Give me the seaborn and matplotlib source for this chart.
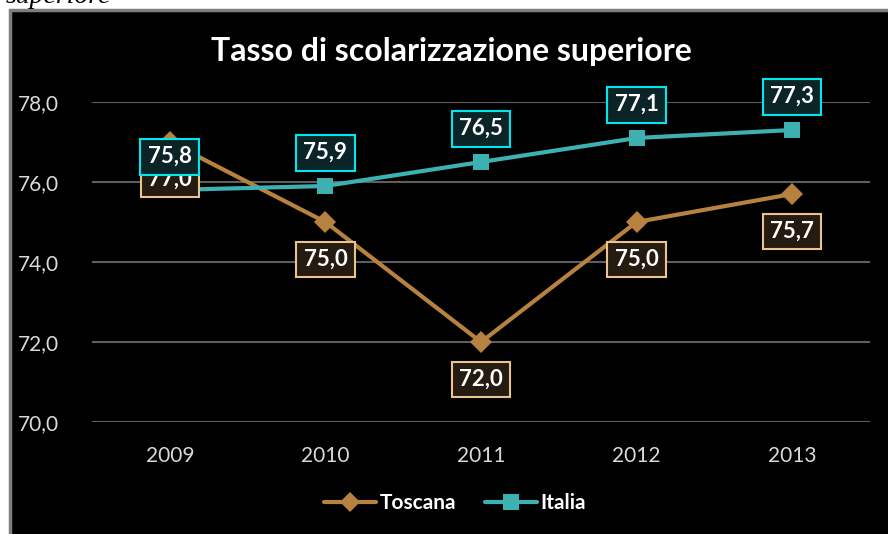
import matplotlib
matplotlib.use("Agg")
import matplotlib.pyplot as plt
import matplotlib.patches as mpatches
from matplotlib.lines import Line2D
import pandas as pd
import seaborn as sns

# -------------------------------------------------------------------
# dati
# -------------------------------------------------------------------
anni = ["2009", "2010", "2011", "2012", "2013"]
toscana = [77.0, 75.0, 72.0, 75.0, 75.7]
italia = [75.8, 75.9, 76.5, 77.1, 77.3]
y_ticks = [70, 72, 74, 76, 78]

titolo = "Tasso di scolarizzazione superiore"

df = pd.DataFrame({
    "anno": anni * 2,
    "valore": toscana + italia,
    "serie": ["Toscana"] * len(anni) + ["Italia"] * len(anni),
})

COL_TOS = "#b7823f"
COL_ITA = "#3db1b1"

sns.set_style("dark")
plt.rcParams["font.family"] = ["Lato", "DejaVu Sans"]

fig = plt.figure(figsize=(8.88, 5.34), dpi=100)
fig.patch.set_facecolor("white")

# sfondo nero del grafico con bordo grigio
fig.patches.append(mpatches.Rectangle(
    (10 / 888, -0.01), 1.0, 1 - 10 / 534 + 0.01,
    transform=fig.transFigure, facecolor="black",
    edgecolor="#7f7f7f", linewidth=2.5, zorder=-5,
))
# testo tagliato in alto a sinistra
fig.text(6 / 888, 1 - 3 / 534, "superiore", family="Liberation Serif",
         style="italic", fontsize=20, color="black", va="baseline")

ax = fig.add_axes([92 / 888, 1 - 422 / 534, (870 - 92) / 888, 320 / 534])
ax.set_facecolor("black")

sns.lineplot(
    data=df, x="anno", y="valore", hue="serie", style="serie",
    palette={"Toscana": COL_TOS, "Italia": COL_ITA},
    markers={"Toscana": "D", "Italia": "s"}, dashes=False,
    linewidth=3, markersize=11, markeredgewidth=0,
    legend=False, ax=ax,
)

ax.set_xlim(-0.5, len(anni) - 0.5)
ax.set_ylim(70, 78)
ax.set_yticks(y_ticks)
ax.set_yticklabels([f"{v:.1f}".replace(".", ",") for v in y_ticks])
ax.set_xlabel("")
ax.set_ylabel("")
ax.grid(axis="y", color="#5e5e5e", linewidth=1.5)
ax.grid(axis="x", visible=False)
for s in ax.spines.values():
    s.set_visible(False)
ax.tick_params(axis="both", length=0, colors="#d9d9d9", labelsize=15)
ax.tick_params(axis="y", pad=24)
ax.tick_params(axis="x", pad=17)

# etichette dati
for i, v in enumerate(toscana):
    ax.annotate(f"{v:.1f}".replace(".", ","), (i, v), xytext=(0, -27),
                textcoords="offset points", ha="center", va="center",
                color="white", fontsize=16, fontweight="bold",
                bbox=dict(boxstyle="square,pad=0.33", fc="#261b10",
                          ec="#e9c491", lw=1.5), zorder=5)
for i, v in enumerate(italia):
    ax.annotate(f"{v:.1f}".replace(".", ","), (i, v), xytext=(0, 24),
                textcoords="offset points", ha="center", va="center",
                color="white", fontsize=16, fontweight="bold",
                bbox=dict(boxstyle="square,pad=0.33", fc="#0b2427",
                          ec="#00e8ee", lw=1.5), zorder=6)

fig.text(451 / 888, 1 - 52 / 534, titolo, ha="center", va="center",
         color="white", fontsize=23, fontweight="bold")

handles = [
    Line2D([], [], color=COL_TOS, lw=3, marker="D", markersize=10, markeredgewidth=0),
    Line2D([], [], color=COL_ITA, lw=3, marker="s", markersize=11, markeredgewidth=0),
]
leg = fig.legend(handles, ["Toscana", "Italia"], loc="center",
                 bbox_to_anchor=(455 / 888, 1 - 503 / 534), ncol=2,
                 frameon=False, handlelength=2.5, handletextpad=0.15,
                 columnspacing=1.4,
                 prop={"weight": "bold", "size": 15})
for t in leg.get_texts():
    t.set_color("white")

fig.savefig("out.png", dpi=100, facecolor=fig.get_facecolor())
